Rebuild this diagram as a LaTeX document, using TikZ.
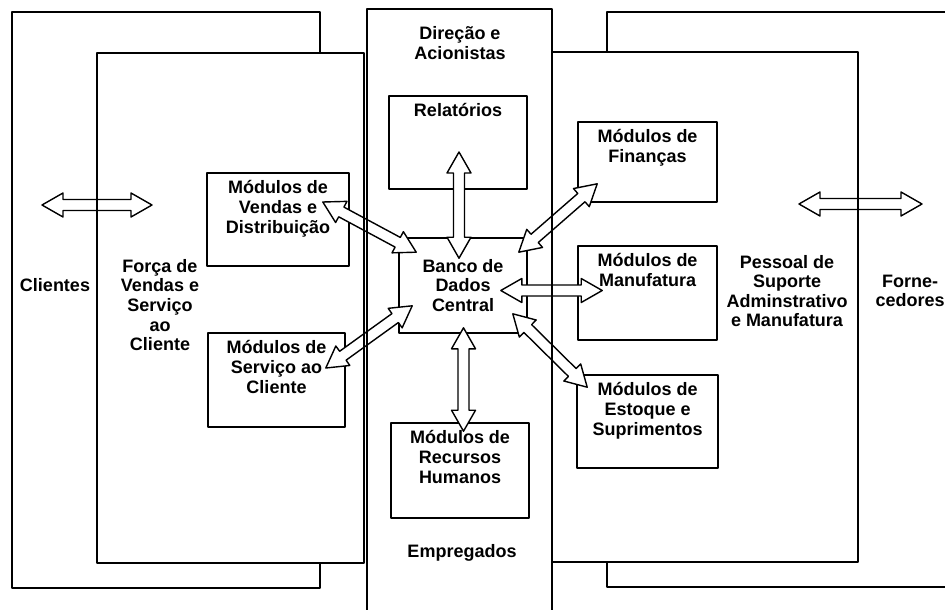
\documentclass[tikz,border=0pt]{standalone}
\usepackage{fontspec}
\setmainfont{Liberation Sans}
\usetikzlibrary{calc}

% 双向空心箭头
\def\arrL{10.5pt}
\def\arrH{6pt}
\def\arrh{2.75pt}
\newcommand{\dblarrow}[2]{%
  \coordinate (arrA) at (#1);
  \coordinate (arrB) at (#2);
  \draw[blockarrow] (arrA)
    -- ($(arrA)!\arrL!(arrB)!\arrH!90:(arrB)$)
    -- ($(arrA)!\arrL!(arrB)!\arrh!90:(arrB)$)
    -- ($(arrB)!\arrL!(arrA)!\arrh!-90:(arrA)$)
    -- ($(arrB)!\arrL!(arrA)!\arrH!-90:(arrA)$)
    -- (arrB)
    -- ($(arrB)!\arrL!(arrA)!\arrH!90:(arrA)$)
    -- ($(arrB)!\arrL!(arrA)!\arrh!90:(arrA)$)
    -- ($(arrA)!\arrL!(arrB)!\arrh!-90:(arrB)$)
    -- ($(arrA)!\arrL!(arrB)!\arrH!-90:(arrB)$)
    -- cycle;
}

\begin{document}
\begin{tikzpicture}[
    x=0.5pt,
    y=-0.5pt,
    line join=round,
    font=\fontsize{9}{9.8}\selectfont\bfseries,
    panel/.style={line width=0.8pt},
    modbox/.style={draw, line width=0.8pt, inner sep=0pt},
    modtext/.style={anchor=north, align=center, inner sep=4pt},
    txt/.style={align=center},
    blockarrow/.style={draw, fill=white, line width=0.7pt}
]
    \useasboundingbox (0,0) rectangle (945,609);

    % 模块
    \node[modbox, minimum width=64pt, minimum height=47.5pt, align=center] (banco) at (463,285.5) {Banco de\\Dados\\Central};
    \node[modbox, minimum width=69pt, minimum height=46.5pt, label={[modtext]north:Relatórios}] (relat) at (458,142.5) {};
    \node[modbox, minimum width=71pt, minimum height=46.5pt, label={[modtext]north:Módulos de\\Vendas e\\Distribuição}] (vendas) at (278,219.5) {};
    \node[modbox, minimum width=68.5pt, minimum height=47pt, label={[modtext]north:Módulos de\\Serviço ao\\Cliente}] (servico) at (276.5,380) {};
    \node[modbox, minimum width=69.5pt, minimum height=40pt, label={[modtext]north:Módulos de\\Finanças}] (financas) at (647.5,162) {};
    \node[modbox, minimum width=69.5pt, minimum height=47pt, label={[modtext]north:Módulos de\\Manufatura}] (manuf) at (647.5,293) {};
    \node[modbox, minimum width=70.5pt, minimum height=46.5pt, label={[modtext]north:Módulos de\\Estoque e\\Suprimentos}] (estoque) at (647.5,421.5) {};
    \node[modbox, minimum width=69pt, minimum height=47.5pt, label={[modtext]north:Módulos de\\Recursos\\Humanos}] (rh) at (460,470.5) {};

    % 箭头
    \coordinate (cliL) at (42,205);
    \coordinate (cliR) at (152,205);
    \dblarrow{cliL}{cliR}
    \coordinate (forL) at (799,204);
    \coordinate (forR) at (922,204);
    \dblarrow{forL}{forR}

    \dblarrow{$(vendas.east)+(-27,-17.5)$}{$(banco.north west)+(18,15)$}
    \dblarrow{$(relat.center)+(1,9.5)$}{$(banco.north)+(-4,21)$}
    \dblarrow{$(financas.south west)+(20,-19)$}{$(banco.north east)+(-9,15)$}
    \dblarrow{$(banco.east)+(-27,5)$}{$(manuf.west)+(25,-2.5)$}
    \dblarrow{$(banco.south east)+(-15,-20)$}{$(estoque.north west)+(11,13)$}
    \dblarrow{$(servico.east)+(-20,-12)$}{$(banco.south west)+(14,-28)$}
    \dblarrow{$(banco.south)+(0.5,-6)$}{$(rh.north)+(3.5,9)$}

    % 外框
    \draw[panel] (320,53) -- (320,12) -- (12,12) -- (12,588) -- (320,588) -- (320,563);
    \draw[panel] (97,53) rectangle (364,563);
    \draw[panel] (367,620) -- (367,9) -- (552,9) -- (552,620);
    \draw[panel] (552,52) -- (858,52) -- (858,562) -- (552,562);
    \draw[panel] (607,52) -- (607,12) -- (960,12) -- (960,587) -- (607,587) -- (607,562);

    % 文字
    \node[txt] (clientes) at (55,285) {Clientes};
    \node[txt] (forca) at (160,305) {Força de\\Vendas e\\Serviço\\ao\\Cliente};
    \node[txt] (direcao) at (460,43) {Direção e\\Acionistas};
    \node[txt] (pessoal) at (787,291) {Pessoal de\\Suporte\\Adminstrativo\\e Manufatura};
    \node[txt] (fornec) at (910,291) {Forne-\\cedores};
    \node[txt] (empreg) at (462,553) {Empregados};

\end{tikzpicture}
\end{document}
